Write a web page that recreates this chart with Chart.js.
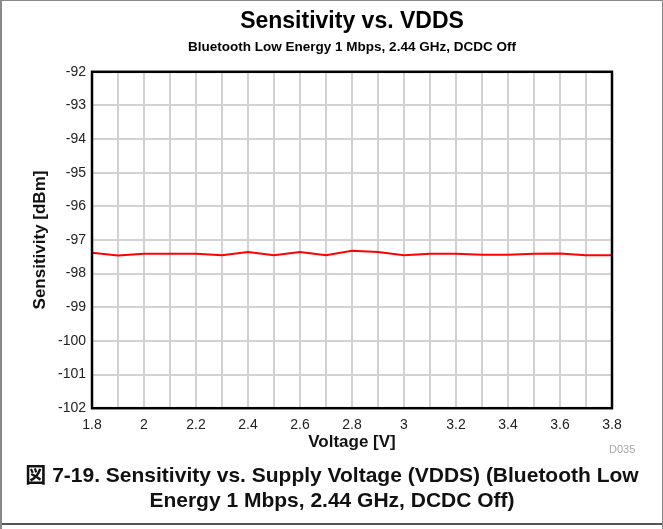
<!DOCTYPE html>
<html>
<head>
<meta charset="utf-8">
<script src="https://cdn.jsdelivr.net/npm/chart.js@4.4.1/dist/chart.umd.min.js"></script>
<style>
  html, body { margin: 0; padding: 0; background: #fff; }
  #frame {
    position: relative; width: 663px; height: 529px; box-sizing: border-box;
    border-left: 2px solid #8a8a8a; border-top: 1px solid #8a8a8a; border-right: 1px solid #8a8a8a;
    overflow: hidden; font-family: "Liberation Sans", Arial, "Noto Sans CJK JP", sans-serif;
  }
  #frame canvas { position: absolute; left: -2px; top: -1px; }
  #bottomLine { position: absolute; left: 0; right: 0; top: 522px; height: 2px; background: #555; }
  #code { position: absolute; left: 607px; top: 442px; font-size: 11px; color: #a8a8a8; }
  #caption {
    position: absolute; left: 0; right: 0; top: 461px; text-align: center;
    font-weight: bold; font-size: 21px; line-height: 25px; color: #111;
  }
</style>
</head>
<body>
<div id="frame">
  <canvas id="chart" width="663" height="529"></canvas>
  <div id="code">D035</div>
  <div id="caption">図 7-19. Sensitivity vs. Supply Voltage (VDDS) (Bluetooth Low<br>Energy 1 Mbps, 2.44 GHz, DCDC Off)</div>
  <div id="bottomLine"></div>
</div>
<script>
// data
const voltage = [1.8, 1.9, 2.0, 2.1, 2.2, 2.3, 2.4, 2.5, 2.6, 2.7, 2.8, 2.9, 3.0, 3.1, 3.2, 3.3, 3.4, 3.5, 3.6, 3.7, 3.8];
const sensitivity = [-97.38, -97.46, -97.41, -97.41, -97.41, -97.45, -97.36, -97.45, -97.36, -97.45, -97.32, -97.36, -97.45, -97.41, -97.41, -97.44, -97.44, -97.41, -97.40, -97.45, -97.45];
const yTicks = [-102, -101, -100, -99, -98, -97, -96, -95, -94, -93, -92];
const xRange = [1.8, 3.8];

const font = "'Liberation Sans', Arial, sans-serif";

// black box around the plot area
const plotBox = {
    id: 'plotBox',
    afterDatasetsDraw(chart) {
        const a = chart.chartArea;
        const ctx = chart.ctx;
        ctx.save();
        ctx.strokeStyle = '#000';
        ctx.lineWidth = 2.5;
        ctx.strokeRect(a.left, a.top, a.right - a.left, a.bottom - a.top);
        ctx.restore();
    }
};

const ctx = document.getElementById('chart').getContext('2d');
new Chart(ctx, {
    type: 'line',
    data: {
        datasets: [{
            data: voltage.map((v, i) => ({ x: v, y: sensitivity[i] })),
            borderColor: '#ff0000',
            borderWidth: 2,
            pointRadius: 0,
            tension: 0
        }]
    },
    options: {
        responsive: false,
        animation: false,
        layout: { padding: { left: 0, right: 51, top: 0, bottom: 76 } },
        plugins: {
            legend: { display: false },
            tooltip: { enabled: false },
            title: {
                display: true, fullSize: false,
                text: 'Sensitivity vs. VDDS',
                color: '#000',
                font: { family: font, size: 23, weight: 'bold', lineHeight: 1.2 },
                padding: { top: 8, bottom: 3 }
            },
            subtitle: {
                display: true, fullSize: false,
                text: 'Bluetooth Low Energy 1 Mbps, 2.44 GHz, DCDC Off',
                color: '#000',
                font: { family: font, size: 13.5, weight: 'bold', lineHeight: 1.2 },
                padding: { top: 1, bottom: 16 }
            }
        },
        scales: {
            x: {
                type: 'linear',
                min: xRange[0], max: xRange[1],
                grid: { color: '#d2d2d2', lineWidth: 2, drawTicks: false },
                border: { display: false },
                ticks: {
                    stepSize: 0.1, padding: 9, color: '#222', autoSkip: false, maxRotation: 0,
                    font: { family: font, size: 14 },
                    callback: v => (Math.round(v * 10) % 2 === 0 ? String(Math.round(v * 10) / 10) : '')
                },
                title: {
                    display: true, text: 'Voltage [V]', color: '#111',
                    font: { family: font, size: 17, weight: 'bold', lineHeight: 1 },
                    padding: { top: -9, bottom: 2 }
                }
            },
            y: {
                type: 'linear',
                min: yTicks[0], max: yTicks[yTicks.length - 1],
                afterBuildTicks: s => { s.ticks = yTicks.map(v => ({ value: v })); },
                afterFit: s => { s.width = 92; },
                grid: { color: '#d2d2d2', lineWidth: 2, drawTicks: false },
                border: { display: false },
                ticks: { padding: 6, color: '#222', font: { family: font, size: 14 } },
                title: {
                    display: true, text: 'Sensitivity [dBm]', color: '#111',
                    font: { family: font, size: 17, weight: 'bold', lineHeight: 1.2 },
                    padding: { top: 30, bottom: 0 }
                }
            }
        }
    },
    plugins: [plotBox]
});
</script>
</body>
</html>
